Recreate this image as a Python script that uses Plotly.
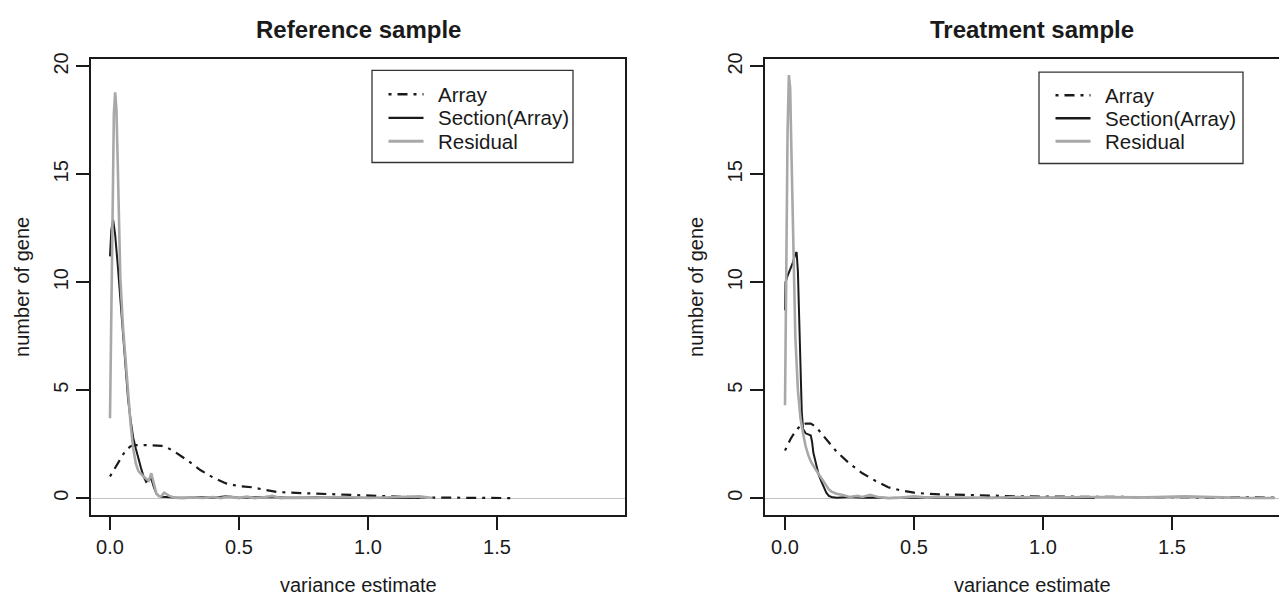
import plotly.graph_objects as go

# ---------------- data ----------------
# Reference sample
ref_array_x = [0, 0.02, 0.04, 0.06, 0.08, 0.1, 0.15, 0.2, 0.22, 0.25, 0.3, 0.35, 0.4, 0.45,
               0.5, 0.55, 0.6, 0.65, 0.7, 0.8, 0.9, 1.0, 1.1, 1.2, 1.3, 1.4, 1.5, 1.56]
ref_array_y = [1.0, 1.4, 1.85, 2.2, 2.4, 2.45, 2.45, 2.42, 2.35, 2.15, 1.75, 1.3, 0.95, 0.68,
               0.55, 0.5, 0.38, 0.28, 0.25, 0.2, 0.15, 0.1, 0.05, 0.03, 0.02, 0.01, 0.0, 0.0]

ref_section_x = [0, 0.005, 0.012, 0.02, 0.03, 0.04, 0.05, 0.06, 0.07, 0.08, 0.09, 0.10, 0.11,
                 0.12, 0.13, 0.14, 0.15, 0.16, 0.17, 0.18, 0.19, 0.2, 0.25, 0.3, 0.35, 0.4,
                 0.45, 0.5, 0.6, 0.7, 0.8, 0.9, 1.0, 1.1, 1.2]
ref_section_y = [11.2, 12.4, 12.9, 12.2, 10.8, 9.3, 7.6, 6.0, 4.6, 3.6, 2.8, 2.3, 1.8,
                 1.4, 1.0, 0.75, 0.85, 0.9, 0.5, 0.2, 0.1, 0.06, 0.03, 0.02, 0.05, 0.02,
                 0.08, 0.02, 0.05, 0.02, 0.03, 0.01, 0.02, 0.0, 0.01]

ref_resid_x = [0, 0.005, 0.01, 0.015, 0.02, 0.025, 0.03, 0.035, 0.04, 0.05, 0.06, 0.07, 0.08,
               0.09, 0.10, 0.11, 0.12, 0.13, 0.14, 0.15, 0.16, 0.17, 0.18, 0.19, 0.2, 0.21,
               0.23, 0.25, 0.28, 0.32, 0.36, 0.4, 0.43, 0.46, 0.5, 0.53, 0.56, 0.6, 0.63,
               0.66, 0.7, 0.8, 0.9, 1.0, 1.1, 1.2, 1.25]
ref_resid_y = [3.7, 9.0, 14.5, 17.8, 18.8, 18.0, 15.5, 12.3, 10.2, 8.0, 6.4, 4.6, 3.4,
               2.3, 1.6, 1.25, 1.1, 1.0, 0.9, 0.8, 1.15, 0.6, 0.2, 0.08, 0.1, 0.25,
               0.1, 0.02, 0.0, 0.03, 0.01, 0.05, 0.0, 0.08, 0.0, 0.07, 0.0, 0.05, 0.1,
               0.0, 0.02, 0.0, 0.05, 0.0, 0.05, 0.08, 0.0]

# Treatment sample
trt_array_x = [0, 0.02, 0.04, 0.06, 0.08, 0.1, 0.12, 0.15, 0.2, 0.25, 0.3, 0.35, 0.4, 0.45,
               0.5, 0.55, 0.6, 0.7, 0.8, 0.9, 1.0, 1.1, 1.2, 1.3, 1.4, 1.5, 1.6, 1.7, 1.8,
               1.9, 2.0]
trt_array_y = [2.2, 2.7, 3.1, 3.35, 3.45, 3.45, 3.3, 2.85, 2.15, 1.6, 1.15, 0.8, 0.5, 0.35,
               0.25, 0.2, 0.17, 0.15, 0.1, 0.08, 0.07, 0.06, 0.05, 0.05, 0.04, 0.04, 0.03,
               0.03, 0.03, 0.02, 0.02]

trt_section_x = [0, 0.002, 0.01, 0.02, 0.03, 0.04, 0.045, 0.05, 0.055, 0.06, 0.065, 0.07,
                 0.08, 0.09, 0.1, 0.105, 0.11, 0.12, 0.13, 0.14, 0.15, 0.16, 0.17, 0.18,
                 0.2, 0.25, 0.3, 0.35, 0.4, 0.5, 0.6, 0.7, 0.8, 0.9, 1.0, 1.1, 1.2]
trt_section_y = [8.7, 10.0, 10.3, 10.6, 10.9, 11.3, 11.4, 10.5, 8.0, 5.8, 4.0, 3.2,
                 3.0, 2.95, 2.9, 2.6, 2.1, 1.6, 1.1, 0.8, 0.5, 0.25, 0.1, 0.05,
                 0.02, 0.05, 0.02, 0.03, 0.0, 0.03, 0.02, 0.0, 0.02, 0.0, 0.01, 0.0, 0.0]

trt_resid_x = [0, 0.005, 0.01, 0.015, 0.02, 0.025, 0.03, 0.035, 0.04, 0.05, 0.06, 0.07,
               0.08, 0.09, 0.1, 0.12, 0.14, 0.15, 0.16, 0.17, 0.18, 0.2, 0.22, 0.25, 0.28,
               0.3, 0.33, 0.36, 0.4, 0.45, 0.5, 0.55, 0.6, 0.7, 0.8, 0.9, 1.0, 1.2, 1.4,
               1.55, 1.7, 1.8, 1.9]
trt_resid_y = [4.3, 11.0, 17.0, 19.6, 19.0, 16.0, 12.5, 9.5, 7.5, 5.0, 3.7, 3.0,
               2.4, 2.0, 1.7, 1.3, 0.95, 0.75, 0.55, 0.4, 0.3, 0.2, 0.15, 0.05, 0.1,
               0.05, 0.15, 0.05, 0.0, 0.02, 0.08, 0.02, 0.05, 0.02, 0.0, 0.05, 0.02, 0.05,
               0.03, 0.08, 0.02, 0.0, 0.0]

series_names = ["Array", "Section(Array)", "Residual"]
panel_titles = ["Reference sample", "Treatment sample"]
x_tick_vals = [0, 0.5, 1.0, 1.5]
x_tick_text = ["0.0", "0.5", "1.0", "1.5"]
y_tick_vals = [0, 5, 10, 15, 20]
x_label = "variance estimate"
y_label = "number of gene"

# ---------------- figure ----------------
W, H = 1287, 596
OFF = 8  # the page body margin shifts the figure by 8px right and down
FONT = "Liberation Sans, Arial, Helvetica, sans-serif"
INK = "#1a1a1a"
GRAY = "#a8a8a8"

def px_x(v):
    """page pixel x -> paper fraction"""
    return (v - OFF) / W

def px_y(v):
    """page pixel y -> paper fraction"""
    return (H - (v - OFF)) / H

styles = [
    dict(color=INK, width=2.2, dash="3px,6px,10px,6px"),
    dict(color=INK, width=2.0),
    dict(color=GRAY, width=2.6),
]

fig = go.Figure()
panels = [
    ("x", "y", [(ref_array_x, ref_array_y), (ref_section_x, ref_section_y), (ref_resid_x, ref_resid_y)]),
    ("x2", "y2", [(trt_array_x, trt_array_y), (trt_section_x, trt_section_y), (trt_resid_x, trt_resid_y)]),
]
for xa, ya, data in panels:
    for i, (xs, ys) in enumerate(data):
        fig.add_trace(go.Scatter(x=xs, y=ys, mode="lines", name=series_names[i],
                                 line=styles[i], xaxis=xa, yaxis=ya, showlegend=False))

# page-pixel geometry of the plot boxes
box_top, box_bot = 53.3, 514.0
L1, R1 = 91.0, 625.0
L2 = 765.0
PPU = 258.0          # pixels per x unit
X0_1, X0_2 = 110.0, 785.0  # page x of value 0 in each panel
ydom = [px_y(box_bot), px_y(box_top)]
yrange = [-0.78, 20.35]
x2_right_page = W + OFF
xrange1 = [(L1 - X0_1) / PPU, (R1 - X0_1) / PPU]
xrange2 = [(L2 - X0_2) / PPU, (x2_right_page - X0_2) / PPU]

axis_common = dict(showline=True, linecolor=INK, linewidth=1.8, ticks="outside",
                   ticklen=13, tickwidth=1.5, tickcolor=INK, showgrid=False,
                   tickfont=dict(family=FONT, size=20, color=INK))

fig.update_layout(
    width=W, height=H, margin=dict(l=0, r=0, t=0, b=0),
    paper_bgcolor="white", plot_bgcolor="white",
    font=dict(family=FONT, size=20, color=INK),
    showlegend=False,
    xaxis=dict(domain=[px_x(L1), px_x(R1)], range=xrange1, anchor="y",
               tickvals=x_tick_vals, ticktext=x_tick_text, mirror=True,
               zeroline=False, **axis_common),
    yaxis=dict(domain=ydom, range=yrange, anchor="x", tickvals=y_tick_vals,
               tickangle=-90, mirror=True, zeroline=True, zerolinecolor="#c4c4c4",
               zerolinewidth=1.2, **axis_common),
    xaxis2=dict(domain=[px_x(L2), 1.0], range=xrange2, anchor="y2",
                tickvals=x_tick_vals, ticktext=x_tick_text, mirror=True,
                zeroline=False, **axis_common),
    yaxis2=dict(domain=ydom, range=yrange, anchor="x2", tickvals=y_tick_vals,
                tickangle=-90, mirror=False, zeroline=True, zerolinecolor="#c4c4c4",
                zerolinewidth=1.2, **axis_common),
)

centers = [(L1 + R1) / 2, L2 + (R1 - L1) / 2]
ylab_x = [22.0, 22.0 + (L2 - L1)]
for k in range(2):
    fig.add_annotation(text="<b>" + panel_titles[k] + "</b>", xref="paper", yref="paper",
                       x=px_x(centers[k]), y=px_y(24), xanchor="center", yanchor="middle",
                       showarrow=False, font=dict(family=FONT, size=24, color=INK))
    fig.add_annotation(text=x_label, xref="paper", yref="paper",
                       x=px_x(centers[k]), y=px_y(585), xanchor="center", yanchor="middle",
                       showarrow=False, font=dict(family=FONT, size=20, color=INK))
    fig.add_annotation(text=y_label, xref="paper", yref="paper", textangle=-90,
                       x=px_x(ylab_x[k]), y=px_y((box_top + box_bot) / 2),
                       xanchor="center", yanchor="middle",
                       showarrow=False, font=dict(family=FONT, size=20, color=INK))

# ---------------- legends (one per panel, R-style box) ----------------
legend_boxes = [dict(x0=372, x1=573, y0=65, y1=158), dict(x0=1039, x1=1243, y0=66.7, y1=159)]
legend_rows = [[89, 113, 136.5], [90, 113.3, 136.5]]
for k, bx in enumerate(legend_boxes):
    fig.add_shape(type="rect", xref="paper", yref="paper",
                  x0=px_x(bx["x0"]), x1=px_x(bx["x1"]), y0=px_y(bx["y1"]), y1=px_y(bx["y0"]),
                  line=dict(color="#333333", width=1.3), fillcolor="white", layer="above")
    for i, name in enumerate(series_names):
        yy = px_y(legend_rows[k][i])
        lx0 = bx["x0"] + 16.5
        st = styles[i]
        fig.add_shape(type="line", xref="paper", yref="paper",
                      x0=px_x(lx0), x1=px_x(lx0 + 35), y0=yy, y1=yy, layer="above",
                      line=dict(color=st["color"], width=st["width"] + 0.3,
                                dash=st.get("dash", "solid")))
        fig.add_annotation(text=name, xref="paper", yref="paper",
                           x=px_x(bx["x0"] + 64), y=yy, xanchor="left", yanchor="middle",
                           showarrow=False, font=dict(family=FONT, size=20.5, color=INK))

fig.write_html("out.html")
